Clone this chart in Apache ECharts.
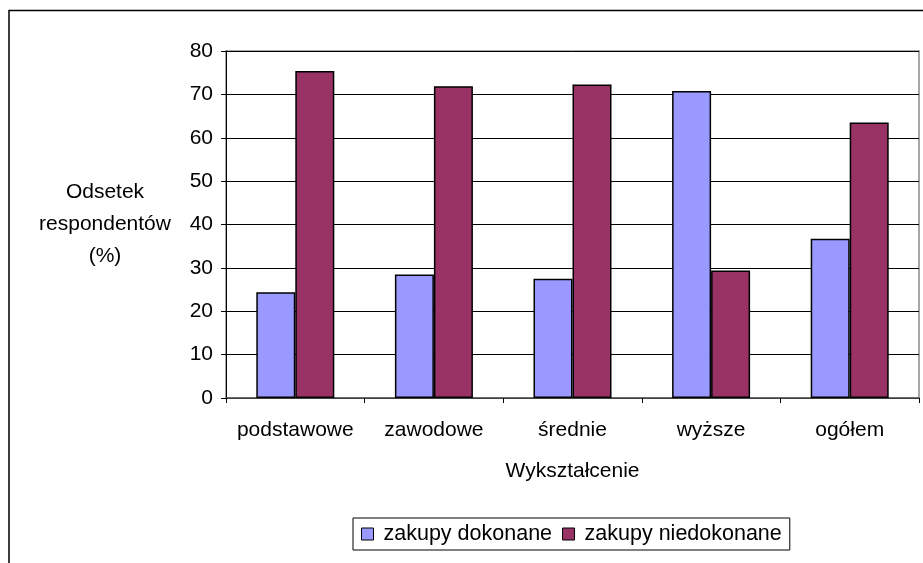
<!DOCTYPE html>
<html>
<head>
<meta charset="utf-8">
<script src="https://cdn.jsdelivr.net/npm/echarts@6/dist/echarts.min.js"></script>
<style>
  html, body { margin: 0; padding: 0; background: #fff; }
  #chart { width: 923px; height: 563px; }
</style>
</head>
<body>
<div id="chart"></div>
<script>
// Education levels and share of respondents (%)
const categories = ['podstawowe', 'zawodowe', 'średnie', 'wyższe', 'ogółem'];
const seriesNames = ['zakupy dokonane', 'zakupy niedokonane'];
const madeValues = [24.4, 28.5, 27.5, 70.8, 36.7];
const notMadeValues = [75.4, 71.9, 72.3, 29.4, 63.5];
const yTicks = { min: 0, max: 80, interval: 10 };

const FONT = '"Liberation Sans", Arial, sans-serif';
const FS = 21;

const chart = echarts.init(document.getElementById('chart'), null, { renderer: 'canvas' });

chart.setOption({
  animation: false,
  backgroundColor: '#ffffff',
  textStyle: { fontFamily: FONT, color: '#000' },
  grid: {
    left: 226, right: 4, top: 51, bottom: 165,
    show: true, borderColor: '#8c8c8c', borderWidth: 1.5, backgroundColor: 'transparent'
  },
  legend: {
    left: 353, top: 518,
    orient: 'horizontal',
    itemWidth: 12, itemHeight: 12, itemGap: 10,
    padding: [5, 8, 5, 8],
    borderColor: '#000', borderWidth: 1,
    textStyle: { fontFamily: FONT, fontSize: 21.5, color: '#000', padding: [0, 0, 0, 5] },
    icon: 'rect',
    itemStyle: { borderColor: '#000', borderWidth: 1 },
    data: seriesNames
  },
  xAxis: {
    type: 'category',
    data: categories,
    name: 'Wykształcenie',
    nameLocation: 'middle',
    nameGap: 63,
    nameTextStyle: { fontFamily: FONT, fontSize: FS, color: '#000' },
    axisLine: { lineStyle: { color: '#555', width: 1.5 } },
    axisTick: { show: true, length: 5, lineStyle: { color: '#000' } },
    axisLabel: { interval: 0, fontFamily: FONT, fontSize: FS, color: '#000', margin: 22 },
    splitLine: { show: false }
  },
  yAxis: {
    type: 'value',
    min: yTicks.min, max: yTicks.max, interval: yTicks.interval,
    name: 'Odsetek\nrespondentów\n(%)',
    nameLocation: 'middle',
    nameRotate: 0,
    nameGap: 121,
    nameTextStyle: {
      fontFamily: FONT, fontSize: FS, color: '#000', lineHeight: 32, align: 'center',
      padding: [8, 0, 0, 0]
    },
    axisLine: { show: true, lineStyle: { color: '#000', width: 1 } },
    axisTick: { show: true, length: 5, lineStyle: { color: '#000' } },
    axisLabel: { fontFamily: FONT, fontSize: FS, color: '#000', margin: 13 },
    splitLine: { show: true, lineStyle: { color: '#000', width: 1 } }
  },
  series: [
    {
      name: seriesNames[0],
      type: 'bar',
      data: madeValues,
      barWidth: 39,
      barGap: '0%',
      itemStyle: { color: '#9999ff', borderColor: '#000', borderWidth: 1.5 }
    },
    {
      name: seriesNames[1],
      type: 'bar',
      data: notMadeValues,
      barWidth: 39,
      barGap: '0%',
      itemStyle: { color: '#993366', borderColor: '#000', borderWidth: 1.5 }
    }
  ],
  graphic: [
    {
      // outer chart frame
      type: 'polyline',
      silent: true,
      shape: { points: [[9, 563], [9, 10.5], [923, 10.5]] },
      style: { stroke: '#000', lineWidth: 1.5, fill: null }
    }
  ]
});
</script>
</body>
</html>
